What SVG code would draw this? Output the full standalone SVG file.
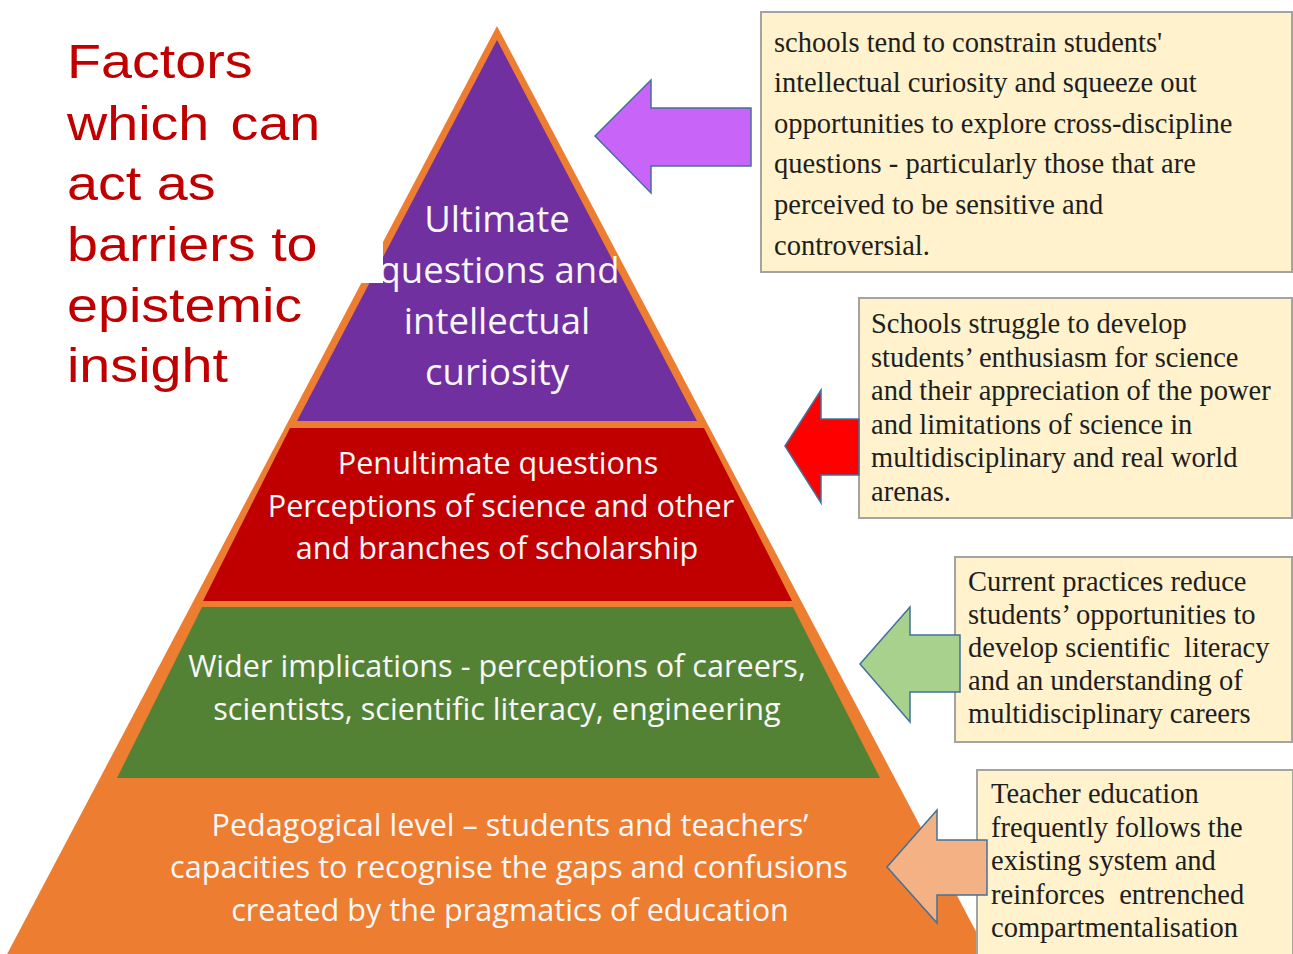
<svg xmlns="http://www.w3.org/2000/svg" width="1293" height="954" viewBox="0 0 1293 954">
<style>
.pt{font-family:"Open Sans","Liberation Sans",sans-serif;fill:#F7F7F7;text-anchor:middle}
.p1{font-size:36.5px}
.p2{font-size:30.6px}
.bx{fill:#FFF2CC;stroke:#A3A3A3;stroke-width:2}
.bt{font-family:"Liberation Serif","Times New Roman",serif;font-size:28.5px;fill:#1E1E1E}
.ar{stroke:#41719C;stroke-width:1.5;stroke-linejoin:miter}
.ttl{font-family:"Liberation Sans",Arial,sans-serif;font-size:48px;fill:#C00000}
</style>
<rect width="1293" height="954" fill="#FFFFFF"/>
<g id="pyramid">
  <polygon points="497,26 5,958 990,958" fill="#ED7D31"/>
  <g id="layer-ultimate">
    <polygon points="497,40 697,421 297,421" fill="#7030A0"/>
    <text class="pt p1" x="497" y="232">Ultimate</text>
    <text class="pt p1" x="499" y="283">questions and</text>
    <text class="pt p1" x="497" y="334">intellectual</text>
    <text class="pt p1" x="497" y="385">curiosity</text>
  </g>
  <g id="layer-penultimate">
    <polygon points="290,428 704,428 792,601 203,601" fill="#C00000"/>
    <text class="pt p2" x="498" y="474">Penultimate questions</text>
    <text class="pt p2" x="501" y="517">Perceptions of science and other</text>
    <text class="pt p2" x="497" y="559">and branches of scholarship</text>
  </g>
  <g id="layer-wider">
    <polygon points="202,607 793,607 880,778 117,778" fill="#548235"/>
    <text class="pt p2" x="497" y="677">Wider implications - perceptions of careers,</text>
    <text class="pt p2" x="497" y="720">scientists, scientific literacy, engineering</text>
  </g>
  <g id="layer-pedagogical">
    <text class="pt p2" x="510" y="836">Pedagogical level – students and teachers’</text>
    <text class="pt p2" x="509" y="878">capacities to recognise the gaps and confusions</text>
    <text class="pt p2" x="510" y="921">created by the pragmatics of education</text>
  </g>
</g>
<g id="title">
  <rect x="0" y="20" width="383" height="263" fill="#FFFFFF"/>
  <g transform="translate(67,0) scale(1.16,1)">
    <text class="ttl" x="0" y="78">Factors</text>
    <text class="ttl" x="0" y="140">which <tspan dx="5">can</tspan></text>
    <text class="ttl" x="0" y="200">act as</text>
    <text class="ttl" x="0" y="261">barriers to</text>
    <text class="ttl" x="0" y="322">epistemic</text>
    <text class="ttl" x="0" y="382">insight</text>
  </g>
</g>
<g id="box-curiosity">
  <rect class="bx" x="761" y="12" width="531" height="260"/>
  <text class="bt" x="774" y="52">schools tend to constrain students'</text>
  <text class="bt" x="774" y="92">intellectual curiosity and squeeze out</text>
  <text class="bt" x="774" y="133">opportunities to explore cross-discipline</text>
  <text class="bt" x="774" y="173">questions - particularly those that are</text>
  <text class="bt" x="774" y="214">perceived to be sensitive and</text>
  <text class="bt" x="774" y="255">controversial.</text>
</g>
<g id="box-enthusiasm">
  <rect class="bx" x="859" y="298" width="433" height="220"/>
  <text class="bt" x="871" y="333">Schools struggle to develop</text>
  <text class="bt" x="871" y="367">students’ enthusiasm for science</text>
  <text class="bt" x="871" y="400">and their appreciation of the power</text>
  <text class="bt" x="871" y="434">and limitations of science in</text>
  <text class="bt" x="871" y="467">multidisciplinary and real world</text>
  <text class="bt" x="871" y="501">arenas.</text>
</g>
<g id="box-literacy">
  <rect class="bx" x="955" y="557" width="337" height="185"/>
  <text class="bt" x="968" y="591">Current practices reduce</text>
  <text class="bt" x="968" y="624">students’ opportunities to</text>
  <text class="bt" x="968" y="657" xml:space="preserve">develop scientific  literacy</text>
  <text class="bt" x="968" y="690">and an understanding of</text>
  <text class="bt" x="968" y="723">multidisciplinary careers</text>
</g>
<g id="box-teacher">
  <rect class="bx" x="977" y="770" width="316" height="190"/>
  <text class="bt" x="991" y="803">Teacher education</text>
  <text class="bt" x="991" y="837">frequently follows the</text>
  <text class="bt" x="991" y="870">existing system and</text>
  <text class="bt" x="991" y="904" xml:space="preserve">reinforces  entrenched</text>
  <text class="bt" x="991" y="937">compartmentalisation</text>
</g>
<g id="connectors">
  <polygon class="ar" fill="#C864F7" points="595,136 651,80 651,108 751,108 751,166 651,166 651,193"/>
  <polygon class="ar" fill="#FF0000" points="785,446 821,390 821,419 859,419 859,475 821,475 821,503"/>
  <polygon class="ar" fill="#A9D18E" points="860,664 910,607 910,635 960,635 960,692 910,692 910,722"/>
  <polygon class="ar" fill="#F4B183" points="887,867 937,810 937,840 987,840 987,895 937,895 937,923"/>
</g>
</svg>
